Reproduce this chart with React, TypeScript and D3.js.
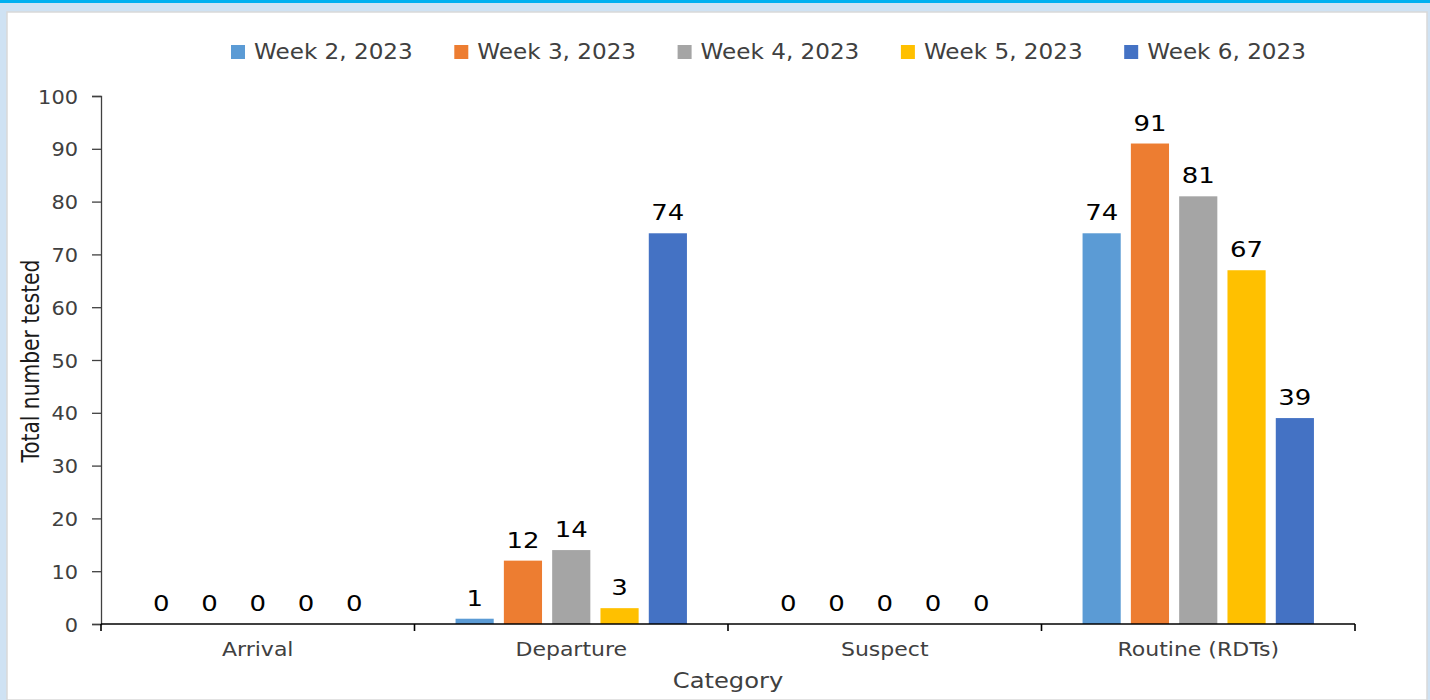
import React, { useRef, useEffect } from 'react';
import * as d3 from 'd3';

const categories = ['Arrival', 'Departure', 'Suspect', 'Routine (RDTs)'];
const seriesNames = ['Week 2, 2023', 'Week 3, 2023', 'Week 4, 2023', 'Week 5, 2023', 'Week 6, 2023'];
const seriesColors = ['#5b9bd5', '#ed7d31', '#a5a5a5', '#ffc000', '#4472c4'];

// values per category, one per week
const arrival = [0, 0, 0, 0, 0];
const departure = [1, 12, 14, 3, 74];
const suspect = [0, 0, 0, 0, 0];
const routine = [74, 91, 81, 67, 39];
const values = [arrival, departure, suspect, routine];

const yTicks = [0, 10, 20, 30, 40, 50, 60, 70, 80, 90, 100];

const W = 1430;
const H = 700;
const FONT = '"DejaVu Sans", Verdana, sans-serif';
const SX = 1.1; // source text is slightly wide

const App: React.FC = () => {
    const svgRef = useRef<SVGSVGElement | null>(null);

    useEffect(() => {
        if (!svgRef.current) return;
        const svg = d3.select(svgRef.current);
        svg.selectAll('*').remove();

        // page frame
        svg.append('rect').attr('width', W).attr('height', H).attr('fill', '#cfe2f3');
        svg.append('rect').attr('width', W).attr('height', 3).attr('fill', '#00b0f0');
        svg.append('rect').attr('x', 7).attr('y', 12).attr('width', 1420).attr('height', H - 12)
            .attr('fill', '#ffffff').attr('stroke', '#d9d9d9').attr('stroke-width', 1.5);

        const margin = { top: 96, left: 101, right: 75, bottom: 76 };
        const x0 = d3.scaleBand<string>()
            .domain(categories)
            .range([margin.left, W - margin.right])
            .padding(0);
        const x1 = d3.scaleBand<string>()
            .domain(seriesNames)
            .range([0, x0.bandwidth()])
            .paddingInner(0.21)
            .paddingOuter(0.85);
        const y = d3.scaleLinear().domain([0, 100]).range([H - margin.bottom, margin.top]);

        // y axis
        const yAxis = svg.append('g')
            .attr('transform', `translate(${margin.left},0)`)
            .call(d3.axisLeft(y).tickValues(yTicks).tickSize(9));
        yAxis.select('.domain').attr('stroke', '#404040').attr('stroke-width', 1.3);
        yAxis.selectAll('.tick line').attr('stroke', '#404040').attr('stroke-width', 1.3);
        yAxis.selectAll('.tick text')
            .attr('x', null)
            .attr('dy', null)
            .attr('transform', `translate(-23,7) scale(${SX},1)`)
            .attr('fill', '#404040')
            .style('font-family', FONT)
            .style('font-size', '19px');

        // bars
        const groups = svg.append('g').selectAll('g')
            .data(categories)
            .enter()
            .append('g')
            .attr('transform', d => `translate(${x0(d)},0)`);

        groups.selectAll('rect')
            .data((_, i) => values[i].map((v, j) => ({ v, name: seriesNames[j], color: seriesColors[j] })))
            .enter()
            .append('rect')
            .attr('x', d => x1(d.name) ?? 0)
            .attr('y', d => y(d.v))
            .attr('width', x1.bandwidth())
            .attr('height', d => y(0) - y(d.v))
            .attr('fill', d => d.color);

        groups.selectAll('text')
            .data((_, i) => values[i].map((v, j) => ({ v, name: seriesNames[j] })))
            .enter()
            .append('text')
            .attr('transform', d =>
                `translate(${(x1(d.name) ?? 0) + x1.bandwidth() / 2},${y(d.v) - 13}) scale(1.18,1)`)
            .attr('text-anchor', 'middle')
            .attr('fill', '#000000')
            .style('font-family', FONT)
            .style('font-size', '22px')
            .text(d => d.v);

        // x axis
        const xAxis = svg.append('g')
            .attr('transform', `translate(0,${y(0)})`);
        xAxis.append('line')
            .attr('x1', x0.range()[0]).attr('x2', x0.range()[1])
            .attr('stroke', '#000000').attr('stroke-width', 1.6);
        const bounds = categories.map(c => x0(c) ?? 0).concat([x0.range()[1]]);
        xAxis.selectAll('line.tk')
            .data(bounds)
            .enter()
            .append('line')
            .attr('class', 'tk')
            .attr('x1', d => d).attr('x2', d => d)
            .attr('y1', 0).attr('y2', 7)
            .attr('stroke', '#000000').attr('stroke-width', 1.6);
        xAxis.selectAll('text')
            .data(categories)
            .enter()
            .append('text')
            .attr('transform', d => `translate(${(x0(d) ?? 0) + x0.bandwidth() / 2},32) scale(${SX},1)`)
            .attr('text-anchor', 'middle')
            .attr('fill', '#404040')
            .style('font-family', FONT)
            .style('font-size', '20px')
            .text(d => d);

        // axis titles
        svg.append('text')
            .attr('transform', `translate(${(x0.range()[0] + x0.range()[1]) / 2},688) scale(${SX},1)`)
            .attr('text-anchor', 'middle')
            .attr('fill', '#404040')
            .style('font-family', FONT)
            .style('font-size', '22px')
            .text('Category');

        svg.append('text')
            .attr('transform', `translate(39,${(y(0) + y(100)) / 2 + 1}) rotate(-90) scale(0.9,1)`)
            .attr('text-anchor', 'middle')
            .attr('fill', '#1a1a1a')
            .style('font-family', '"DejaVu Sans Condensed", "Liberation Sans Narrow", sans-serif')
            .style('font-size', '25px')
            .text('Total number tested');

        // legend
        const legend = svg.append('g')
            .selectAll('g')
            .data(seriesNames)
            .enter()
            .append('g')
            .attr('transform', (_, i) => `translate(${231 + i * 223.3},45)`);
        legend.append('rect')
            .attr('width', 14).attr('height', 14)
            .attr('fill', (_, i) => seriesColors[i]);
        legend.append('text')
            .attr('transform', `translate(23,14) scale(${SX},1)`)
            .attr('fill', '#404040')
            .style('font-family', FONT)
            .style('font-size', '21px')
            .text(d => d);
    }, []);

    return (
        <svg
            ref={svgRef}
            width={W}
            height={H}
            style={{ position: 'absolute', left: 0, top: 0, display: 'block' }}
        />
    );
};

export default App;
